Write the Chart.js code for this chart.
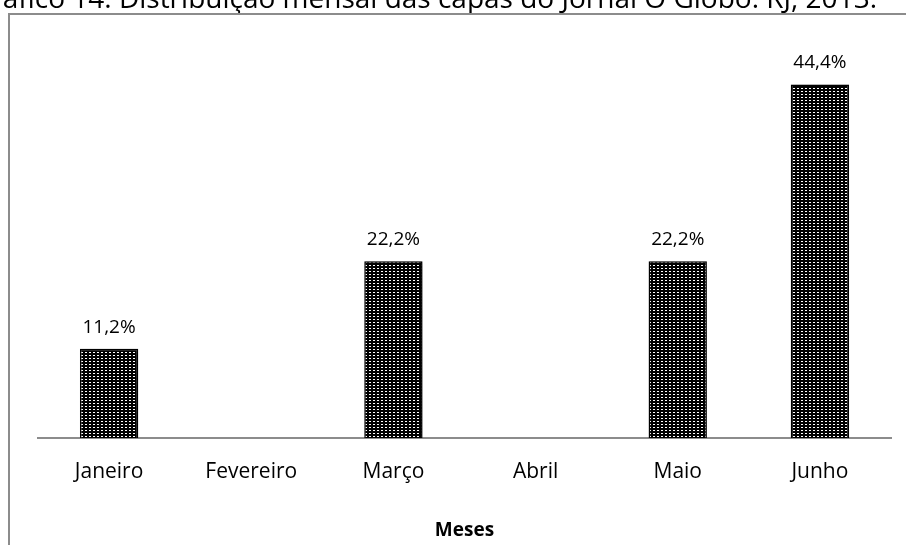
<!DOCTYPE html>
<html>
<head>
<meta charset="utf-8">
<script src="https://cdn.jsdelivr.net/npm/chart.js@4"></script>
<style>
  html, body { margin: 0; padding: 0; background: #fff; }
  #wrap { position: relative; width: 906px; height: 545px; overflow: hidden; }
</style>
</head>
<body>
<div id="wrap"><canvas id="c" width="906" height="545"></canvas></div>
<script>
// dados
var meses = ['Janeiro', 'Fevereiro', 'Março', 'Abril', 'Maio', 'Junho'];
var percentuais = [11.2, 0, 22.2, 0, 22.2, 44.4];
var rotulos = ['11,2%', '', '22,2%', '', '22,2%', '44,4%'];
var titulo = 'Gráfico 14. Distribuição mensal das capas do Jornal O Globo. RJ, 2013.';
var eixoX = 'Meses';

var FONT = "'Open Sans', 'Noto Sans', sans-serif";

// padrão pontilhado (preto com pontos brancos)
function makePattern() {
  var p = document.createElement('canvas');
  p.width = 4; p.height = 3;
  var g = p.getContext('2d');
  g.fillStyle = '#000';
  g.fillRect(0, 0, 4, 3);
  g.fillStyle = '#fff';
  g.fillRect(1, 1, 2, 1);
  return g.createPattern(p, 'repeat');
}

var framePlugin = {
  id: 'frame',
  beforeDraw: function(chart) {
    var ctx = chart.ctx;
    ctx.save();
    ctx.fillStyle = '#fff';
    ctx.fillRect(0, 0, chart.width, chart.height);
    // título cortado no topo
    ctx.fillStyle = '#000';
    ctx.font = '28px ' + FONT;
    ctx.textAlign = 'right';
    ctx.textBaseline = 'alphabetic';
    ctx.fillText(titulo, 877, 8);
    // moldura
    ctx.strokeStyle = '#8c8c8c';
    ctx.lineWidth = 2;
    ctx.beginPath();
    ctx.moveTo(9, 545);
    ctx.lineTo(9, 14);
    ctx.lineTo(906, 14);
    ctx.stroke();
    ctx.restore();
  },
  beforeDatasetsDraw: function(chart) {
    var ctx = chart.ctx;
    ctx.save();
    ctx.shadowColor = 'rgba(0,0,0,0.3)';
    ctx.shadowBlur = 5;
    ctx.shadowOffsetX = 1;
    ctx.shadowOffsetY = 1;
  },
  afterDatasetsDraw: function(chart) {
    chart.ctx.restore();
  }
};

var labelPlugin = {
  id: 'valueLabels',
  afterDatasetsDraw: function(chart) {
    var ctx = chart.ctx;
    var meta = chart.getDatasetMeta(0);
    ctx.save();
    ctx.fillStyle = '#000';
    ctx.font = '19px ' + FONT;
    ctx.textAlign = 'center';
    ctx.textBaseline = 'bottom';
    for (var i = 0; i < meta.data.length; i++) {
      if (!rotulos[i]) continue;
      var el = meta.data[i];
      ctx.fillText(rotulos[i], el.x, el.y - 12);
    }
    ctx.restore();
  }
};

var ctx = document.getElementById('c').getContext('2d');
new Chart(ctx, {
  type: 'bar',
  data: {
    labels: meses,
    datasets: [{
      data: percentuais,
      backgroundColor: makePattern(),
      borderColor: '#000',
      borderWidth: 1.5,
      borderSkipped: 'bottom',
      categoryPercentage: 1,
      barPercentage: 0.41
    }]
  },
  options: {
    responsive: false,
    animation: false,
    events: [],
    layout: { padding: { left: 38, right: 15, top: 40, bottom: 0 } },
    plugins: {
      legend: { display: false },
      tooltip: { enabled: false }
    },
    scales: {
      y: { display: false, min: 0, max: 50 },
      x: {
        grid: { display: false, drawTicks: false },
        border: { display: true, color: '#8c8c8c', width: 2 },
        ticks: { color: '#000', padding: 21, font: { family: FONT, size: 21 } },
        title: {
          display: true,
          text: eixoX,
          color: '#000',
          font: { family: FONT, size: 19, weight: 'bold' },
          padding: { top: 0, bottom: 3 }
        },
        afterFit: function(scale) { scale.height = 107; }
      }
    }
  },
  plugins: [framePlugin, labelPlugin]
});
</script>
</body>
</html>
